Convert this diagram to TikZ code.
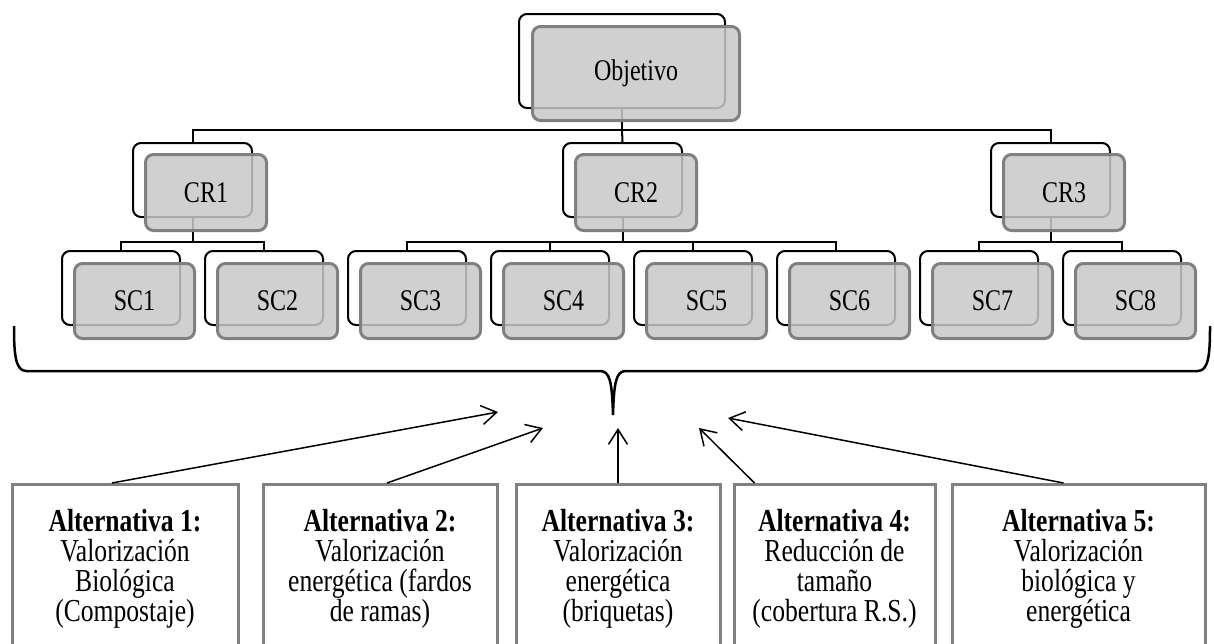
\documentclass[tikz,border=0pt]{standalone}
\usepackage{fontspec}
\setmainfont{Liberation Serif}[FakeStretch=0.8]
\usetikzlibrary{arrows.meta}
\definecolor{edgegray}{RGB}{128,128,128}
\definecolor{boxfill}{RGB}{200,200,200}
\begin{document}
\begin{tikzpicture}[x=1pt,y=-1pt,
  backbox/.style={draw=black, line width=2pt, rounded corners=8pt, inner sep=0pt,
    anchor=north west, minimum width=118pt, minimum height=74pt},
  frontbox/.style={draw=edgegray, line width=3pt, rounded corners=8pt, inner sep=0pt,
    anchor=north west, fill=boxfill, fill opacity=0.85, text opacity=1,
    minimum width=120pt, minimum height=75pt, font=\fontsize{30}{34}\selectfont},
  conn/.style={draw=black, line width=2pt},
  altbox/.style={draw=edgegray, line width=3pt, inner sep=0pt, anchor=north,
    minimum height=190pt},
  alttext/.style={align=center, inner sep=0pt, anchor=north, yshift=-26pt,
    font=\fontsize{32}{30}\selectfont},
  arr/.style={draw=black, line width=1.5pt, -{Straight Barb[length=15pt,width=19pt]}},
  bracestyle/.style={draw=black, line width=2.5pt}
]
\useasboundingbox (0,0) rectangle (1214,643);
\clip (0,0) rectangle (1214,643);

% back (outline) boxes of the hierarchy
\node[backbox, minimum width=206pt, minimum height=94pt] (objB) at (518,13) {};
\node[backbox, minimum width=119pt] (cr1B) at (132,142) {};
\node[backbox, minimum width=119pt] (cr2B) at (562,142) {};
\node[backbox, minimum width=119pt] (cr3B) at (990,142) {};
\foreach \i/\c in {1/120,2/263,3/406,4/549,5/692,6/835,7/978,8/1121}{
  \node[backbox] (sc\i B) at (\c-59,250) {};
}

% tree connectors
\draw[conn] (objB.south) -- ++(0,21) coordinate (objbus);
\draw[conn] (objbus) -| (cr1B.north);
\draw[conn] (objbus) -| (cr3B.north);
\draw[conn] (objbus) -- (cr2B.north);

\draw[conn] (cr1B.south) -- ++(0,24) coordinate (cr1bus);
\draw[conn] (cr1bus) -| (sc1B.north);
\draw[conn] (cr1bus) -| (sc2B.north);

\draw[conn] (cr2B.south) -- ++(0,24) coordinate (cr2bus);
\draw[conn] (cr2bus) -| (sc3B.north);
\draw[conn] (cr2bus) -| (sc4B.north);
\draw[conn] (cr2bus) -| (sc5B.north);
\draw[conn] (cr2bus) -| (sc6B.north);

\draw[conn] (cr3B.south) -- ++(0,24) coordinate (cr3bus);
\draw[conn] (cr3bus) -| (sc7B.north);
\draw[conn] (cr3bus) -| (sc8B.north);

% front (shaded) boxes with the labels
\node[frontbox, minimum width=207pt, minimum height=94pt] (objF) at (531,25) {Objetivo};
\node[frontbox, minimum width=121pt, minimum height=76pt] (cr1F) at (144,153) {CR1};
\node[frontbox, minimum width=121pt, minimum height=76pt] (cr2F) at (574,153) {CR2};
\node[frontbox, minimum width=121pt, minimum height=76pt] (cr3F) at (1002,153) {CR3};
\foreach \i/\c in {1/120,2/263,3/406,4/549,5/692,6/835,7/978,8/1121}{
  \node[frontbox] (sc\i F) at (\c-47,262) {SC\i};
}

% brace gathering all sub-criteria
\draw[bracestyle] (14,326) .. controls (14,352) and (15,371) .. (26,371)
  -- (600,371) .. controls (610,371) and (612,382) .. (613,415)
  .. controls (614,382) and (616,371) .. (626,371)
  -- (1198,371) .. controls (1209,371) and (1210,352) .. (1210,326);

% alternatives
\node[altbox, minimum width=226pt] (alt1) at (125,483) {};
\node[altbox, minimum width=234pt] (alt2) at (380,483) {};
\node[altbox, minimum width=204pt] (alt3) at (618,483) {};
\node[altbox, minimum width=201pt] (alt4) at (834.5,483) {};
\node[altbox, minimum width=253pt] (alt5) at (1078.5,483) {};

\node[alttext] (alt1t) at (alt1.north) {\textbf{Alternativa 1:}\\Valorización\\Biológica\\(Compostaje)};
\node[alttext] (alt2t) at (alt2.north) {\textbf{Alternativa 2:}\\Valorización\\energética (fardos\\de ramas)};
\node[alttext] (alt3t) at (alt3.north) {\textbf{Alternativa 3:}\\Valorización\\energética\\(briquetas)};
\node[alttext] (alt4t) at (alt4.north) {\textbf{Alternativa 4:}\\Reducción de\\tamaño\\(cobertura R.S.)};
\node[alttext] (alt5t) at (alt5.north) {\textbf{Alternativa 5:}\\Valorización\\biológica y\\energética};

% arrows from the alternatives towards the brace
\coordinate (tip1) at (498,412);
\coordinate (tip2) at (543,428);
\coordinate (tip3) at (618,428);
\coordinate (tip4) at (699,428);
\coordinate (tip5) at (728,418);
\draw[arr] ([xshift=-13pt]alt1.north) -- (tip1);
\draw[arr] ([xshift=7pt]alt2.north) -- (tip2);
\draw[arr] (alt3.north) -- (tip3);
\draw[arr] ([xshift=-80pt]alt4.north) -- (tip4);
\draw[arr] ([xshift=-15pt]alt5.north) -- (tip5);
\end{tikzpicture}
\end{document}
